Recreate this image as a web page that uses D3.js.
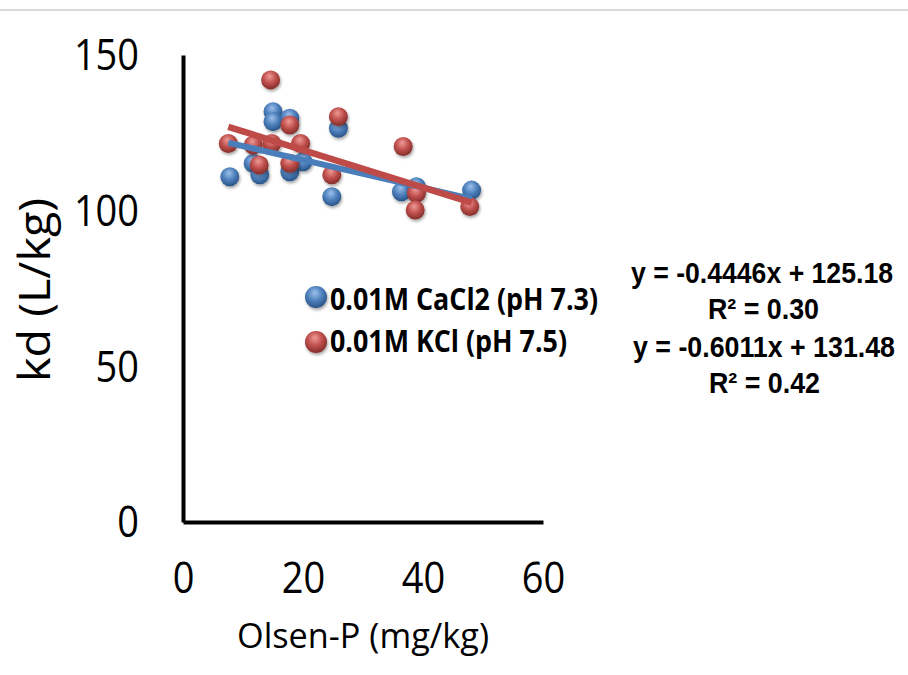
<!DOCTYPE html>
<html>
<head>
<meta charset="utf-8">
<script src="https://cdn.jsdelivr.net/npm/d3@7/dist/d3.min.js"></script>
<style>
  body { margin: 0; padding: 0; background: #fff; }
  svg { display: block; }
</style>
</head>
<body>
<div id="chart"></div>
<script>
// data
var cacl2X = [7.8, 11.7, 12.8, 15.0, 15.0, 17.8, 17.8, 20.0, 25.9, 24.8, 36.4, 38.9, 48.1];
var cacl2Y = [110.9, 115.2, 111.5, 131.8, 128.6, 129.7, 112.5, 115.7, 126.5, 104.5, 106.1, 107.7, 106.6];
var kclX = [14.6, 7.55, 11.7, 14.8, 19.6, 17.8, 12.7, 17.8, 25.9, 24.8, 36.7, 38.9, 38.7, 47.8];
var kclY = [142.0, 121.6, 121.1, 121.6, 121.6, 127.5, 114.7, 115.2, 130.2, 111.5, 120.6, 105.6, 100.2, 101.3];

var seriesNames = ["0.01M CaCl2 (pH 7.3)", "0.01M KCl (pH 7.5)"];
var slopes = [-0.4446, -0.6011];
var intercepts = [125.18, 131.48];
var r2 = ["0.30", "0.42"];
var trendRange = [7.55, 48.1];

var xTicks = [0, 20, 40, 60];
var yTicks = [0, 50, 100, 150];

var width = 908, height = 675;
var svg = d3.select("#chart").append("svg")
    .attr("width", width)
    .attr("height", height);

var defs = svg.append("defs");

function sphere(id, light, base, dark) {
    var g = defs.append("radialGradient")
        .attr("id", id)
        .attr("cx", "45%").attr("cy", "38%").attr("r", "60%")
        .attr("fx", "45%").attr("fy", "30%");
    g.append("stop").attr("offset", "0%").attr("stop-color", light);
    g.append("stop").attr("offset", "55%").attr("stop-color", base);
    g.append("stop").attr("offset", "100%").attr("stop-color", dark);
}
sphere("gBlue", "#9cc0ea", "#4f81bd", "#2b5689");
sphere("gRed", "#ee9a97", "#c0504d", "#87302d");

var shadow = defs.append("filter").attr("id", "shadow")
    .attr("x", "-50%").attr("y", "-50%").attr("width", "200%").attr("height", "200%");
shadow.append("feDropShadow")
    .attr("dx", 1).attr("dy", 2).attr("stdDeviation", 1.5)
    .attr("flood-color", "#000").attr("flood-opacity", 0.35);

// thin grey rule at top
svg.append("line")
    .attr("x1", 0).attr("x2", width)
    .attr("y1", 10).attr("y2", 10)
    .attr("stroke", "#d9d9d9").attr("stroke-width", 2);

var x = d3.scaleLinear().domain([0, 60]).range([183, 543]);
var y = d3.scaleLinear().domain([0, 150]).range([522, 55]);

// axes
var yAxis = svg.append("g")
    .attr("transform", "translate(183,0)")
    .call(d3.axisLeft(y).tickValues(yTicks).tickSize(0).tickPadding(44).tickSizeOuter(0));
var xAxis = svg.append("g")
    .attr("transform", "translate(0,522)")
    .call(d3.axisBottom(x).tickValues(xTicks).tickSize(0).tickSizeOuter(0));

yAxis.select(".domain").attr("stroke", "#000").attr("stroke-width", 4);
xAxis.select(".domain").attr("stroke", "#000").attr("stroke-width", 4);

yAxis.selectAll("text")
    .attr("font-family", "'Open Sans', sans-serif")
    .attr("font-size", 44)
    .attr("fill", "#000")
    .attr("dy", "0.34em")
    .attr("textLength", function(d) { return String(d).length * 21.7; })
    .attr("lengthAdjust", "spacingAndGlyphs");

xAxis.selectAll("text")
    .attr("font-family", "'Open Sans', sans-serif")
    .attr("font-size", 44)
    .attr("fill", "#000")
    .attr("y", 71)
    .attr("dy", 0)
    .attr("textLength", function(d) { return String(d).length * 21.7; })
    .attr("lengthAdjust", "spacingAndGlyphs");

// axis titles
svg.append("text")
    .attr("x", 363).attr("y", 648)
    .attr("text-anchor", "middle")
    .attr("font-family", "'Open Sans', sans-serif")
    .attr("font-size", 35)
    .attr("textLength", 252)
    .attr("lengthAdjust", "spacingAndGlyphs")
    .text("Olsen-P (mg/kg)");

svg.append("text")
    .attr("transform", "translate(50,290) rotate(-90)")
    .attr("text-anchor", "middle")
    .attr("font-family", "'Open Sans', sans-serif")
    .attr("font-size", 43)
    .attr("textLength", 184)
    .attr("lengthAdjust", "spacingAndGlyphs")
    .text("kd (L/kg)");

// points
var blue = cacl2X.map(function(v, i) { return [v, cacl2Y[i]]; });
var red = kclX.map(function(v, i) { return [v, kclY[i]]; });

svg.append("g").selectAll("circle").data(blue).enter().append("circle")
    .attr("cx", function(d) { return x(d[0]); })
    .attr("cy", function(d) { return y(d[1]); })
    .attr("r", 9.5)
    .attr("fill", "url(#gBlue)")
    .attr("filter", "url(#shadow)");

svg.append("g").selectAll("circle").data(red).enter().append("circle")
    .attr("cx", function(d) { return x(d[0]); })
    .attr("cy", function(d) { return y(d[1]); })
    .attr("r", 9.5)
    .attr("fill", "url(#gRed)")
    .attr("filter", "url(#shadow)");

// trend lines
var lineColors = ["#4a7ebb", "#be4b48"];
var lineWidths = [6, 6.5];
slopes.forEach(function(m, i) {
    var pts = trendRange.map(function(v) { return [v, m * v + intercepts[i]]; });
    svg.append("path")
        .datum(pts)
        .attr("fill", "none")
        .attr("stroke", lineColors[i])
        .attr("stroke-width", lineWidths[i])
        .attr("d", d3.line().x(function(d) { return x(d[0]); }).y(function(d) { return y(d[1]); }));
});

// legend
var legY = [297, 342];
var legText = [{ x: 330, base: 310, len: 268 }, { x: 330, base: 352, len: 237 }];
var grads = ["url(#gBlue)", "url(#gRed)"];
seriesNames.forEach(function(name, i) {
    svg.append("circle")
        .attr("cx", 316).attr("cy", legY[i]).attr("r", 11)
        .attr("fill", grads[i])
        .attr("filter", "url(#shadow)");
    svg.append("text")
        .attr("x", legText[i].x).attr("y", legText[i].base)
        .attr("font-family", "'Open Sans', sans-serif")
        .attr("font-weight", "bold")
        .attr("font-size", 30)
        .attr("textLength", legText[i].len)
        .attr("lengthAdjust", "spacingAndGlyphs")
        .text(name);
});

// equations (font a bit smaller, stretched upward to match the narrow bold face)
var eqBase = [283, 357];
var eqX = [631, 633];
slopes.forEach(function(m, i) {
    var sign = intercepts[i] >= 0 ? " + " : " - ";
    svg.append("text")
        .attr("transform", "translate(" + eqX[i] + "," + eqBase[i] + ") scale(1,1.12)")
        .attr("font-family", "'Liberation Sans', Arial, sans-serif")
        .attr("font-weight", "bold")
        .attr("font-size", 26.5)
        .attr("textLength", 262)
        .attr("lengthAdjust", "spacingAndGlyphs")
        .text("y = " + m.toFixed(4) + "x" + sign + intercepts[i].toFixed(2));
    svg.append("text")
        .attr("transform", "translate(" + (708 + i) + "," + (eqBase[i] + 36) + ") scale(1,1.12)")
        .attr("font-family", "'Liberation Sans', Arial, sans-serif")
        .attr("font-weight", "bold")
        .attr("font-size", 26.5)
        .attr("textLength", 111)
        .attr("lengthAdjust", "spacingAndGlyphs")
        .text("R\u00b2 = " + r2[i]);
});
</script>
</body>
</html>
